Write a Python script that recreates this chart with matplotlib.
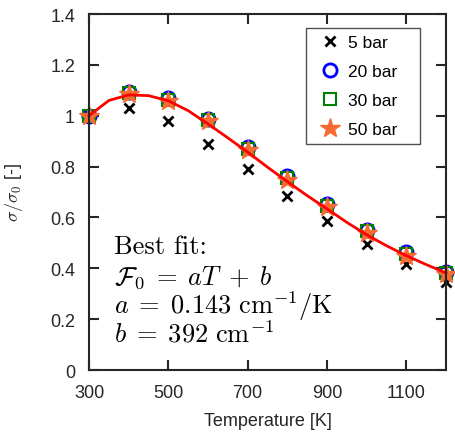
import matplotlib
matplotlib.use("Agg")
import matplotlib.pyplot as plt
from matplotlib.ticker import FuncFormatter

plt.rcParams["font.family"] = ["Liberation Sans", "DejaVu Sans"]
plt.rcParams["mathtext.fontset"] = "cm"

# temperature [K]
temperature = [300, 400, 500, 600, 700, 800, 900, 1000, 1100, 1200]

# normalised cross section sigma/sigma_0 at each pressure
sigma_5bar = [1.0, 1.029, 0.978, 0.889, 0.790, 0.683, 0.587, 0.495, 0.417, 0.347]
sigma_20bar = [1.0, 1.092, 1.068, 0.987, 0.876, 0.764, 0.653, 0.552, 0.463, 0.387]
sigma_30bar = [1.0, 1.088, 1.063, 0.982, 0.871, 0.756, 0.645, 0.545, 0.456, 0.381]
sigma_50bar = [1.0, 1.085, 1.059, 0.978, 0.866, 0.748, 0.640, 0.539, 0.449, 0.377]

# best fit curve
fit_T = [300, 350, 400, 450, 500, 550, 600, 650, 700, 750, 800,
         850, 900, 950, 1000, 1050, 1100, 1150, 1200]
fit_sigma = [1.000, 1.060, 1.082, 1.079, 1.059, 1.020, 0.968, 0.913, 0.857, 0.798,
             0.741, 0.686, 0.634, 0.581, 0.532, 0.489, 0.450, 0.415, 0.382]

xticks = [300, 500, 700, 900, 1100]
yticks = [0, 0.2, 0.4, 0.6, 0.8, 1.0, 1.2, 1.4]

dark = (0.15, 0.15, 0.15)

fig = plt.figure(figsize=(4.55, 4.35), dpi=100)
ax = fig.add_axes([0.1956, 0.147, 0.7844, 0.8185])

ax.plot(temperature, sigma_5bar, "x", color="k", ms=7, mew=2, label="5 bar", clip_on=False)
ax.plot(temperature, sigma_20bar, "o", mfc="none", mec="b", ms=9.5, mew=2,
        label="20 bar", clip_on=False)
ax.plot(temperature, sigma_30bar, "s", mfc="none", mec=(0, 0.5, 0), ms=8.5, mew=1.5,
        label="30 bar", clip_on=False)
ax.plot(temperature, sigma_50bar, "*", color=(0.97, 0.42, 0.2), ms=15, mew=1,
        label="50 bar", clip_on=False)
ax.plot(fit_T, fit_sigma, "-", color="r", lw=2, clip_on=False)

ax.set_xlim(300, 1200)
ax.set_ylim(0, 1.4)
ax.set_xticks(xticks)
ax.set_yticks(yticks)
ax.yaxis.set_major_formatter(FuncFormatter(lambda v, p: f"{v:g}"))
ax.tick_params(direction="in", length=7, width=1.5, top=True, right=True,
               labelsize=13, colors=dark)
ax.tick_params(axis="x", pad=10)
ax.tick_params(axis="y", pad=10)
for s in ax.spines.values():
    s.set_linewidth(1.5)
    s.set_color(dark)

ax.set_xlabel("Temperature [K]", fontsize=13, color=dark, labelpad=8)
ax.set_ylabel(r"$\sigma/\sigma_0$ [-]", fontsize=13, color=dark, labelpad=18)

leg = ax.legend(loc="upper left", bbox_to_anchor=(0.608, 0.0, 0.319, 0.961),
                mode="expand", borderaxespad=0, fontsize=12.5, frameon=True,
                fancybox=False, edgecolor=dark, handlelength=2.0, handletextpad=0.0,
                borderpad=0.4, labelspacing=0.8)
leg.get_frame().set_linewidth(1.0)

# fit annotation
ax.text(0.07, 0.329, "Best fit:", transform=ax.transAxes, fontfamily="cmr10",
        fontsize=19, color="k", va="baseline")
fit_text = [
    r"$\mathcal{F}_0 \;=\; aT \;+\; b$",
    r"$a \;=\; 0.143\ \mathrm{cm}^{-1}/\mathrm{K}$",
    r"$b \;=\; 392\ \mathrm{cm}^{-1}$",
]
baselines = [0.244, 0.160, 0.081]
for line, yb in zip(fit_text, baselines):
    ax.text(0.07, yb, line, transform=ax.transAxes,
            fontsize=19, color="k", va="baseline")

fig.savefig("out.png", dpi=100)
